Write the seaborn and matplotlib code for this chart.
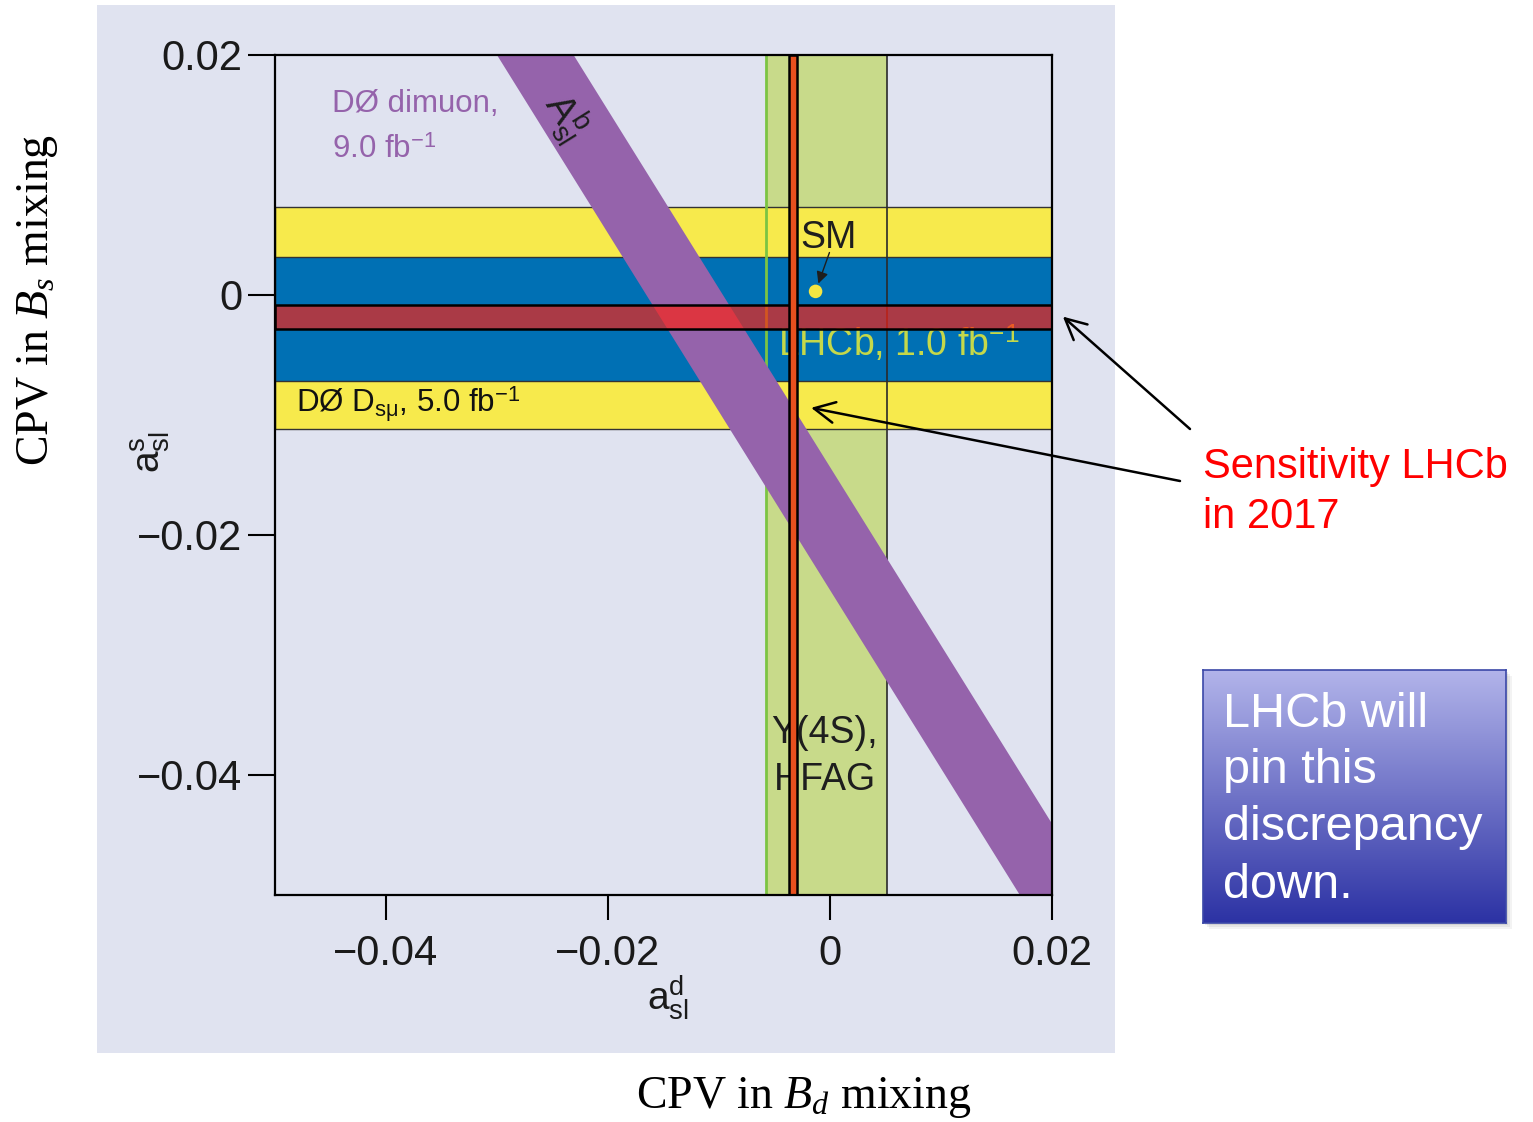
import matplotlib
matplotlib.use("Agg")
import matplotlib.pyplot as plt
import numpy as np
import pandas as pd
import seaborn as sns
from matplotlib.patches import Rectangle

# ---- axis ranges and ticks (a_sl^d horizontally, a_sl^s vertically) ----
x_range = [-0.05, 0.02]
y_range = [-0.05, 0.02]
x_ticks = [-0.04, -0.02, 0.0, 0.02]
y_ticks = [-0.04, -0.02, 0.0, 0.02]
x_tick_labels = ["\u22120.04", "\u22120.02", "0", "0.02"]
y_tick_labels = ["\u22120.04", "\u22120.02", "0", "0.02"]

# ---- horizontal bands in a_sl^s ----
d0_dsmu_band = [-0.0112, 0.0073]       # D0 D_s mu, 5.0 fb^-1
lhcb_band = [-0.0072, 0.0032]          # LHCb, 1.0 fb^-1
lhcb_2017_band_s = [-0.0028, -0.0008]  # LHCb sensitivity in 2017

# ---- vertical bands in a_sl^d ----
hfag_band = [-0.0058, 0.0051]          # Upsilon(4S), HFAG
lhcb_2017_band_d = [-0.0037, -0.0030]  # LHCb sensitivity in 2017

# ---- D0 dimuon A_sl^b band: edges given at a_sl^s = 0.02 and -0.05 ----
dimuon_edge_s = [0.02, -0.05]
dimuon_edge_lo = [-0.0300, 0.0171]
dimuon_edge_hi = [-0.0231, 0.0240]

# ---- Standard Model expectation ----
sm_d = [-0.0013]
sm_s = [0.0003]

# ---- colours ----
BG = "#E0E3F0"
YELLOW = "#F7EA4C"
BLUE = "#0070B4"
GREEN = "#C8DA8A"
GREEN_EDGE = "#7CC443"
PURPLE = "#9563AB"
RED_H = "#FF2010"
RED_V = "#E8501E"

sns.set_theme(style="white")
plt.rcParams["font.family"] = ["Liberation Sans", "DejaVu Sans"]
plt.rcParams["mathtext.fontset"] = "custom"
plt.rcParams["mathtext.rm"] = "Liberation Sans"
plt.rcParams["mathtext.it"] = "Liberation Serif:italic"
plt.rcParams["mathtext.bf"] = "Liberation Sans:bold"
plt.rcParams["axes.unicode_minus"] = True

fig = plt.figure(figsize=(15.33, 11.22), dpi=100)
fig.patch.set_facecolor("white")

W, H = 1533.0, 1122.0


def fx(px):
    return px / W


def fy(py):
    return 1.0 - py / H


# light panel behind the plot
fig.add_artist(Rectangle((fx(97), fy(1053)), fx(1115) - fx(97), fy(5) - fy(1053),
                         transform=fig.transFigure, facecolor=BG,
                         edgecolor="none", zorder=-5))

ax = fig.add_axes([fx(275), fy(895), fx(1052) - fx(275), fy(55) - fy(895)])
ax.set_facecolor(BG)
ax.set_xlim(*x_range)
ax.set_ylim(*y_range)

# Upsilon(4S) HFAG band (vertical)
ax.axvspan(*hfag_band, facecolor=GREEN, edgecolor="none", zorder=1)
ax.axvline(hfag_band[0], color=GREEN_EDGE, lw=2.0, zorder=2.5)
ax.axvline(hfag_band[1], color="#2a2a2a", lw=1.2, zorder=2.5)

# D0 Ds-mu and LHCb horizontal bands
ax.axhspan(*d0_dsmu_band, facecolor=YELLOW, edgecolor="#333333", lw=1.0, zorder=2)
ax.axhspan(*lhcb_band, facecolor=BLUE, edgecolor="#333333", lw=1.0, zorder=2.1)

# D0 dimuon A_sl^b diagonal band
band = pd.DataFrame({"s": dimuon_edge_s, "lo": dimuon_edge_lo, "hi": dimuon_edge_hi})
ax.fill_betweenx(band["s"], band["lo"], band["hi"], facecolor=PURPLE,
                 edgecolor="none", zorder=3)

# band labels
ax.text(-0.0449, 0.01525, "D\u00d8 dimuon,", color=PURPLE, fontsize=22.5,
        ha="left", va="baseline", zorder=3.5)
ax.text(-0.0449, 0.01142, r"9.0 fb$^{-1}$", color=PURPLE, fontsize=22.5,
        ha="left", va="baseline", zorder=3.5)

p0 = ax.transData.transform((band["lo"][0], band["s"][0]))
p1 = ax.transData.transform((band["lo"][1], band["s"][1]))
band_angle = np.degrees(np.arctan2(p1[1] - p0[1], p1[0] - p0[0]))
ax.text(-0.0238, 0.0149, r"$\mathrm{A}_{\mathrm{sl}}^{\mathrm{b}}$", color="#1e1e1e",
        fontsize=28, rotation=band_angle, rotation_mode="anchor",
        ha="center", va="center", zorder=3.5)

ax.text(-0.0481, -0.00983, "D\u00d8 D$_{\\mathrm{s\u03bc}}$, 5.0 fb$^{-1}$",
        color="#111111", fontsize=22.5, ha="left", va="baseline", zorder=3.5)
ax.text(-0.0047, -0.00508, r"LHCb, 1.0 fb$^{-1}$", color="#C5D84A",
        fontsize=27, ha="left", va="baseline", zorder=3.5)
ax.text(-0.0053, -0.0373, "\u03a5(4S),", color="#1e1e1e", fontsize=27,
        ha="left", va="baseline", zorder=3.5)
ax.text(-0.0051, -0.04125, "HFAG", color="#1e1e1e", fontsize=27,
        ha="left", va="baseline", zorder=3.5)

# Standard Model point with its label
sns.scatterplot(x=sm_d, y=sm_s, ax=ax, s=95, color="#F5E642", edgecolor="none",
                zorder=4, legend=False)
ax.text(-0.0027, 0.0039, "SM", color="#1e1e1e", fontsize=27, ha="left",
        va="baseline", zorder=3.5)
ax.annotate("", xy=(sm_d[0], sm_s[0]), xytext=(10, 28), textcoords="offset points",
            arrowprops=dict(arrowstyle="-|>,head_length=0.5,head_width=0.25",
                            color="#1e1e1e", lw=1.0, shrinkA=0, shrinkB=6,
                            mutation_scale=14),
            zorder=4)

# LHCb 2017 sensitivity, horizontal (a_sl^s)
ax.axhspan(*lhcb_2017_band_s, facecolor=RED_H, alpha=0.67, edgecolor="none", zorder=5)
ax.axhspan(*lhcb_2017_band_s, facecolor="none", edgecolor="black", lw=1.8, zorder=5.1)
# LHCb 2017 sensitivity, vertical (a_sl^d)
ax.axvspan(*lhcb_2017_band_d, facecolor=RED_V, edgecolor="black", lw=1.8, zorder=6)

# axes styling
for sp in ax.spines.values():
    sp.set_color("black")
    sp.set_linewidth(1.6)
    sp.set_zorder(7)
ax.set_xticks(x_ticks)
ax.set_xticklabels(x_tick_labels)
ax.set_yticks(y_ticks)
ax.set_yticklabels(y_tick_labels)
ax.tick_params(axis="x", direction="out", length=18, width=1.5, pad=10,
               labelsize=30, colors="black", labelcolor="#1a1a1a", bottom=True)
ax.tick_params(axis="y", direction="out", length=19.5, width=1.5, pad=4,
               labelsize=30, colors="black", labelcolor="#1a1a1a", left=True)
ax.grid(False)

ax.set_xlabel(r"$\mathrm{a}_{\mathrm{sl}}^{\mathrm{d}}$", fontsize=28, color="#1a1a1a")
ax.set_ylabel(r"$\mathrm{a}_{\mathrm{sl}}^{\mathrm{s}}$", fontsize=28, color="#1a1a1a")
ax.xaxis.set_label_coords(0.5058, -0.1226)
ax.yaxis.set_label_coords(-0.161, 0.527)
ax.xaxis.label.set_va("center")
ax.yaxis.label.set_va("center")

# outer axis descriptions
fig.text(fx(38), fy(300), r"CPV in $B_s$ mixing", family="Liberation Serif",
         fontsize=33, rotation=90, ha="center", va="center", color="black")
fig.text(fx(804), fy(1097), r"CPV in $B_d$ mixing", family="Liberation Serif",
         fontsize=33, ha="center", va="center", color="black")

# sensitivity call-out
fig.text(fx(1203), fy(478), "Sensitivity LHCb", color="#FF0000", fontsize=30,
         ha="left", va="baseline")
fig.text(fx(1203), fy(528), "in 2017", color="#FF0000", fontsize=30,
         ha="left", va="baseline")
arrow_kw = dict(arrowstyle="->,head_length=0.6,head_width=0.3", color="black",
                lw=1.8, shrinkA=0, shrinkB=0, mutation_scale=25)
ax.annotate("", xy=(1.014, np.mean(lhcb_2017_band_s)), xycoords=("axes fraction", "data"),
            xytext=(fx(1190), fy(429)), textcoords="figure fraction",
            arrowprops=arrow_kw, annotation_clip=False, zorder=8)
ax.annotate("", xy=(-0.0017, -0.0094), xycoords="data",
            xytext=(fx(1180), fy(481)), textcoords="figure fraction",
            arrowprops=arrow_kw, annotation_clip=False, zorder=8)

# gradient note box
bx0, bx1, by0, by1 = fx(1203), fx(1506), fy(923), fy(670)
for k, a in enumerate([0.10, 0.08, 0.06]):
    off = 2 + 2 * k
    fig.add_artist(Rectangle((bx0 + off / W, by0 - off / H), bx1 - bx0, by1 - by0,
                             transform=fig.transFigure, facecolor="#404040",
                             edgecolor="none", alpha=a, zorder=1))
box_ax = fig.add_axes([bx0, by0, bx1 - bx0, by1 - by0], zorder=2)
top_col = np.array([178, 180, 234]) / 255.0
bot_col = np.array([44, 50, 164]) / 255.0
t = np.linspace(0, 1, 256)[:, None]
grad = (1 - t) * top_col + t * bot_col
box_ax.imshow(grad[:, None, :].repeat(2, axis=1), aspect="auto",
              extent=[0, 1, 0, 1], origin="upper", interpolation="bilinear")
box_ax.set_xticks([])
box_ax.set_yticks([])
for sp in box_ax.spines.values():
    sp.set_color("#3B48A8")
    sp.set_linewidth(1.2)
note_lines = ["LHCb will", "pin this", "discrepancy", "down."]
note_baselines = [727, 783, 840, 898]
for line, base in zip(note_lines, note_baselines):
    fig.text(fx(1223), fy(base), line, color="white", fontsize=35,
             ha="left", va="baseline", zorder=3)

fig.savefig("out.png", dpi=100, facecolor="white")
